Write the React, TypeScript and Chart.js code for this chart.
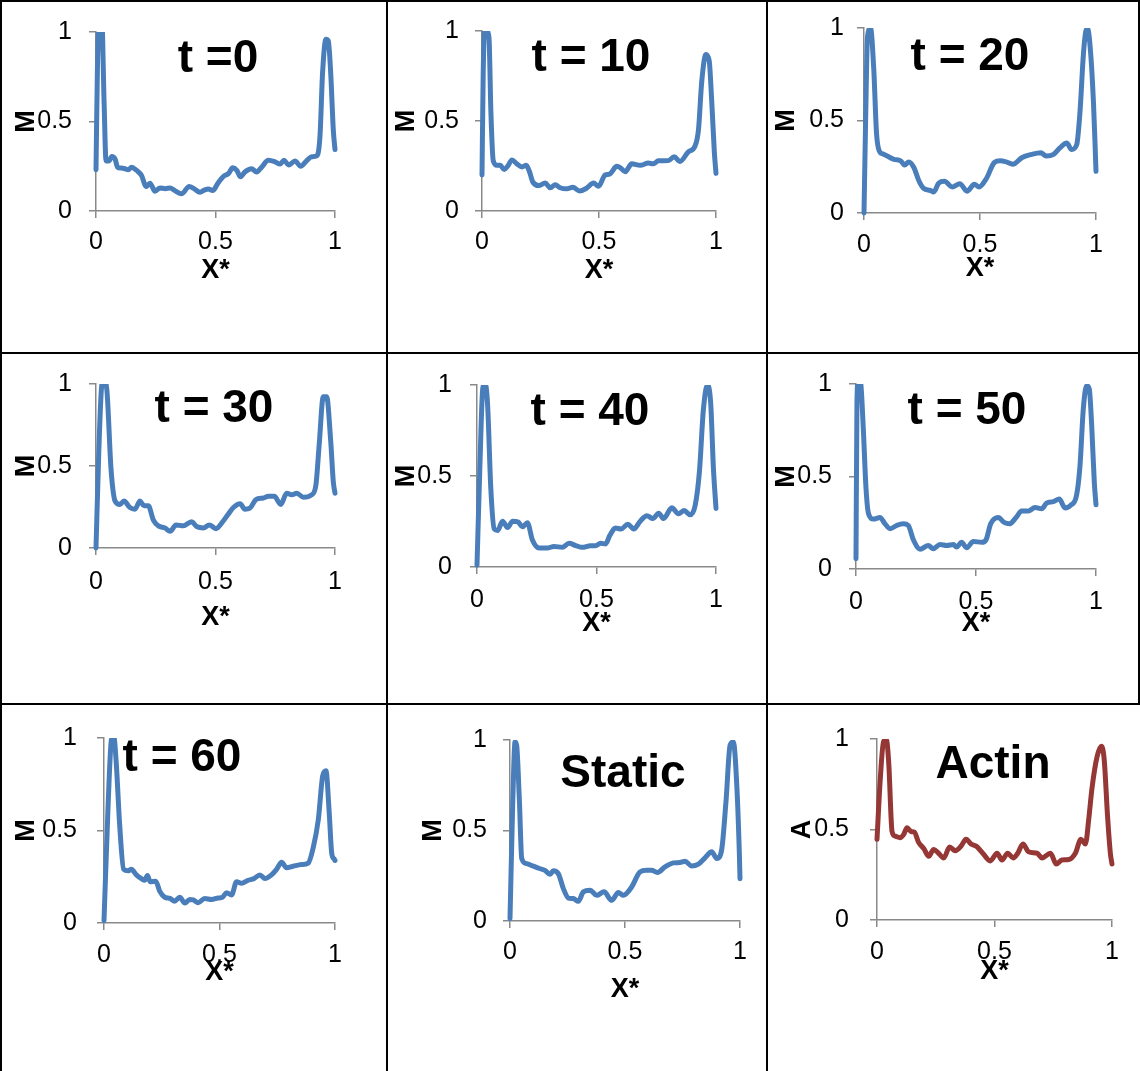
import React, { useEffect, useRef } from "react";
import { Chart, registerables } from "chart.js";

Chart.register(...registerables);

const FONT = '"Liberation Sans", Arial, sans-serif';
const BLUE = "#4A7EBB";
const RED = "#953735";
const AXIS = "#898989";

// ---- data (x* positions and normalized intensities) ----
const t0X = [0, 0.006, 0.014, 0.024, 0.034, 0.042, 0.055, 0.066, 0.08, 0.09, 0.105, 0.121, 0.135, 0.149, 0.17, 0.19, 0.21, 0.226, 0.247, 0.268, 0.29, 0.31, 0.33, 0.358, 0.39, 0.41, 0.435, 0.455, 0.47, 0.488, 0.512, 0.536, 0.554, 0.572, 0.589, 0.605, 0.623, 0.651, 0.672, 0.693, 0.721, 0.749, 0.77, 0.787, 0.805, 0.833, 0.856, 0.881, 0.902, 0.923, 0.937, 0.948, 0.962, 0.972, 0.982, 0.993, 1.0];
const t0M = [0.23, 0.8, 1.08, 1.08, 0.6, 0.28, 0.28, 0.305, 0.29, 0.245, 0.24, 0.236, 0.23, 0.245, 0.227, 0.2, 0.137, 0.155, 0.11, 0.129, 0.125, 0.129, 0.114, 0.096, 0.137, 0.125, 0.105, 0.118, 0.123, 0.114, 0.159, 0.196, 0.209, 0.241, 0.227, 0.191, 0.218, 0.236, 0.218, 0.245, 0.284, 0.275, 0.262, 0.284, 0.257, 0.279, 0.25, 0.28, 0.303, 0.307, 0.414, 0.771, 0.959, 0.95, 0.771, 0.45, 0.343];

const t10X = [0, 0.005, 0.012, 0.022, 0.03, 0.038, 0.048, 0.064, 0.078, 0.095, 0.11, 0.128, 0.149, 0.171, 0.189, 0.203, 0.216, 0.242, 0.27, 0.292, 0.313, 0.334, 0.363, 0.388, 0.417, 0.445, 0.477, 0.498, 0.526, 0.545, 0.576, 0.592, 0.612, 0.64, 0.676, 0.711, 0.732, 0.754, 0.797, 0.821, 0.846, 0.882, 0.91, 0.925, 0.939, 0.957, 0.971, 0.981, 0.993, 1.0];
const t10M = [0.2, 0.75, 1.03, 1.0, 0.96, 0.55, 0.28, 0.254, 0.254, 0.23, 0.25, 0.284, 0.262, 0.245, 0.254, 0.218, 0.164, 0.141, 0.155, 0.129, 0.146, 0.129, 0.123, 0.132, 0.111, 0.125, 0.155, 0.137, 0.2, 0.205, 0.248, 0.24, 0.218, 0.262, 0.254, 0.266, 0.262, 0.279, 0.28, 0.302, 0.275, 0.329, 0.36, 0.45, 0.718, 0.87, 0.834, 0.629, 0.325, 0.209];

const t20X = [0, 0.007, 0.015, 0.028, 0.042, 0.054, 0.066, 0.08, 0.1, 0.129, 0.158, 0.175, 0.193, 0.215, 0.236, 0.258, 0.284, 0.301, 0.322, 0.347, 0.38, 0.413, 0.444, 0.476, 0.496, 0.527, 0.562, 0.587, 0.609, 0.642, 0.68, 0.723, 0.762, 0.785, 0.817, 0.842, 0.874, 0.895, 0.917, 0.931, 0.946, 0.957, 0.964, 0.977, 0.989, 0.996, 1.0];
const t20M = [0.0, 0.5, 0.95, 1.0, 0.78, 0.43, 0.335, 0.32, 0.308, 0.29, 0.282, 0.259, 0.276, 0.246, 0.176, 0.132, 0.123, 0.114, 0.162, 0.171, 0.141, 0.158, 0.118, 0.155, 0.141, 0.185, 0.273, 0.282, 0.278, 0.264, 0.299, 0.317, 0.326, 0.308, 0.317, 0.349, 0.378, 0.343, 0.37, 0.546, 0.863, 0.986, 0.995, 0.863, 0.6, 0.37, 0.225];

const t30X = [0, 0.012, 0.024, 0.033, 0.045, 0.063, 0.08, 0.1, 0.117, 0.142, 0.163, 0.184, 0.201, 0.219, 0.24, 0.261, 0.289, 0.31, 0.335, 0.365, 0.4, 0.421, 0.449, 0.474, 0.502, 0.53, 0.554, 0.575, 0.603, 0.623, 0.644, 0.669, 0.7, 0.721, 0.746, 0.773, 0.798, 0.819, 0.84, 0.868, 0.902, 0.92, 0.934, 0.951, 0.965, 0.982, 0.993, 1.0];
const t30M = [0.0, 0.6, 0.99, 1.02, 0.97, 0.479, 0.286, 0.266, 0.286, 0.247, 0.237, 0.286, 0.257, 0.257, 0.17, 0.135, 0.122, 0.102, 0.141, 0.135, 0.16, 0.131, 0.122, 0.141, 0.118, 0.16, 0.208, 0.247, 0.27, 0.237, 0.243, 0.295, 0.305, 0.315, 0.315, 0.266, 0.334, 0.324, 0.334, 0.309, 0.324, 0.383, 0.633, 0.923, 0.923, 0.653, 0.402, 0.334];

const t40X = [0, 0.012, 0.024, 0.033, 0.044, 0.058, 0.072, 0.086, 0.107, 0.128, 0.149, 0.172, 0.19, 0.211, 0.232, 0.26, 0.294, 0.322, 0.357, 0.385, 0.413, 0.44, 0.475, 0.496, 0.517, 0.538, 0.556, 0.579, 0.603, 0.631, 0.656, 0.683, 0.711, 0.736, 0.76, 0.781, 0.815, 0.843, 0.867, 0.892, 0.913, 0.931, 0.947, 0.964, 0.978, 0.989, 1.0];
const t40M = [0.01, 0.55, 0.98, 1.01, 0.9, 0.426, 0.209, 0.2, 0.252, 0.217, 0.252, 0.247, 0.221, 0.243, 0.148, 0.104, 0.104, 0.113, 0.108, 0.13, 0.118, 0.108, 0.117, 0.117, 0.13, 0.127, 0.174, 0.214, 0.209, 0.235, 0.209, 0.252, 0.282, 0.266, 0.296, 0.266, 0.325, 0.292, 0.31, 0.287, 0.339, 0.53, 0.861, 1.0, 0.896, 0.548, 0.322];

const t50X = [0, 0.004, 0.01, 0.02, 0.03, 0.042, 0.052, 0.072, 0.1, 0.121, 0.142, 0.169, 0.197, 0.218, 0.239, 0.267, 0.301, 0.322, 0.35, 0.378, 0.406, 0.419, 0.44, 0.461, 0.489, 0.524, 0.542, 0.561, 0.593, 0.617, 0.639, 0.667, 0.69, 0.718, 0.746, 0.774, 0.794, 0.822, 0.847, 0.871, 0.894, 0.919, 0.933, 0.947, 0.961, 0.972, 0.982, 0.993, 1.0];
const t50M = [0.055, 0.9, 1.03, 1.0, 0.77, 0.43, 0.3, 0.27, 0.278, 0.244, 0.218, 0.235, 0.244, 0.235, 0.158, 0.107, 0.127, 0.11, 0.132, 0.127, 0.132, 0.119, 0.144, 0.115, 0.149, 0.144, 0.158, 0.244, 0.278, 0.252, 0.244, 0.278, 0.313, 0.313, 0.333, 0.326, 0.356, 0.364, 0.378, 0.33, 0.344, 0.399, 0.553, 0.863, 0.991, 0.974, 0.777, 0.467, 0.347];

const t60X = [0, 0.017, 0.032, 0.042, 0.053, 0.068, 0.085, 0.104, 0.118, 0.14, 0.162, 0.176, 0.188, 0.2, 0.224, 0.241, 0.263, 0.285, 0.306, 0.328, 0.35, 0.371, 0.386, 0.408, 0.436, 0.465, 0.494, 0.513, 0.53, 0.552, 0.574, 0.595, 0.624, 0.649, 0.675, 0.697, 0.725, 0.747, 0.769, 0.79, 0.819, 0.855, 0.884, 0.906, 0.928, 0.947, 0.961, 0.975, 0.986, 0.997, 1.0];
const t60M = [0.012, 0.61, 0.99, 1.01, 0.865, 0.527, 0.29, 0.282, 0.29, 0.26, 0.24, 0.231, 0.257, 0.223, 0.226, 0.172, 0.139, 0.133, 0.118, 0.139, 0.108, 0.127, 0.125, 0.11, 0.133, 0.127, 0.135, 0.139, 0.164, 0.152, 0.223, 0.215, 0.231, 0.24, 0.26, 0.24, 0.26, 0.29, 0.328, 0.299, 0.307, 0.316, 0.324, 0.409, 0.561, 0.797, 0.823, 0.595, 0.375, 0.345, 0.338];

const staticX = [0, 0.012, 0.022, 0.029, 0.041, 0.051, 0.072, 0.101, 0.128, 0.152, 0.174, 0.188, 0.21, 0.232, 0.254, 0.275, 0.297, 0.319, 0.348, 0.377, 0.409, 0.442, 0.471, 0.493, 0.529, 0.565, 0.594, 0.616, 0.641, 0.674, 0.71, 0.739, 0.761, 0.79, 0.819, 0.848, 0.877, 0.899, 0.92, 0.939, 0.957, 0.971, 0.986, 0.997, 1.0];
const staticM = [0.013, 0.659, 0.99, 0.97, 0.659, 0.345, 0.317, 0.303, 0.29, 0.28, 0.258, 0.277, 0.262, 0.179, 0.127, 0.124, 0.109, 0.161, 0.17, 0.142, 0.161, 0.114, 0.157, 0.142, 0.188, 0.271, 0.28, 0.28, 0.268, 0.299, 0.321, 0.323, 0.33, 0.304, 0.314, 0.349, 0.382, 0.345, 0.391, 0.659, 0.972, 0.99, 0.751, 0.382, 0.234];

const actinX = [0, 0.014, 0.028, 0.04, 0.05, 0.064, 0.078, 0.099, 0.113, 0.128, 0.145, 0.159, 0.177, 0.199, 0.22, 0.241, 0.262, 0.284, 0.309, 0.333, 0.357, 0.379, 0.4, 0.423, 0.45, 0.482, 0.511, 0.532, 0.556, 0.579, 0.599, 0.621, 0.645, 0.681, 0.702, 0.738, 0.763, 0.787, 0.816, 0.844, 0.868, 0.887, 0.901, 0.915, 0.936, 0.955, 0.967, 0.981, 0.993, 1.0];
const actinA = [0.446, 0.78, 0.986, 0.995, 0.866, 0.489, 0.463, 0.455, 0.472, 0.509, 0.489, 0.485, 0.429, 0.395, 0.352, 0.39, 0.369, 0.343, 0.403, 0.383, 0.407, 0.446, 0.42, 0.407, 0.369, 0.326, 0.369, 0.331, 0.369, 0.343, 0.369, 0.42, 0.377, 0.369, 0.343, 0.369, 0.309, 0.331, 0.334, 0.369, 0.446, 0.42, 0.557, 0.729, 0.9, 0.96, 0.883, 0.575, 0.369, 0.309];

const AXIS_MIN = 0;
const AXIS_MAX = 1;
const AXIS_STEP = 0.5;

// ---- layout of the 3x3 table (page pixels) ----
type Panel = {
  title: string;
  xs: number[];
  ys: number[];
  color: string;
  yLabel: string;
  cell: number[]; // x, y, w, h
  plot: number[]; // left, right, top, bottom
  yTitleCx: number;
  xTitleCy: number;
  yGap: number;
  xOff: number;
  titleAt: number[];
};

const PANELS: Panel[] = [
  { title: "t =0", xs: t0X, ys: t0M, color: BLUE, yLabel: "M", cell: [0, 0, 387, 352], plot: [96, 335, 24, 211], yTitleCx: 27, xTitleCy: 271, yGap: 24, xOff: 31, titleAt: [218, 56] },
  { title: "t = 10", xs: t10X, ys: t10M, color: BLUE, yLabel: "M", cell: [387, 0, 380, 352], plot: [482, 716, 24, 211], yTitleCx: 407, xTitleCy: 271, yGap: 23, xOff: 31, titleAt: [591, 55] },
  { title: "t = 20", xs: t20X, ys: t20M, color: BLUE, yLabel: "M", cell: [767, 0, 373, 352], plot: [864, 1096, 24, 213], yTitleCx: 787, xTitleCy: 269, yGap: 20, xOff: 32, titleAt: [970, 54] },
  { title: "t = 30", xs: t30X, ys: t30M, color: BLUE, yLabel: "M", cell: [0, 352, 387, 351], plot: [96, 335, 375, 548], yTitleCx: 27, xTitleCy: 618, yGap: 24, xOff: 34, titleAt: [214, 406] },
  { title: "t = 40", xs: t40X, ys: t40M, color: BLUE, yLabel: "M", cell: [387, 352, 380, 351], plot: [477, 716, 375, 567], yTitleCx: 407, xTitleCy: 624, yGap: 25, xOff: 33, titleAt: [590, 409] },
  { title: "t = 50", xs: t50X, ys: t50M, color: BLUE, yLabel: "M", cell: [767, 352, 373, 351], plot: [856, 1096, 375, 569], yTitleCx: 787, xTitleCy: 624, yGap: 24, xOff: 33, titleAt: [967, 408] },
  { title: "t = 60", xs: t60X, ys: t60M, color: BLUE, yLabel: "M", cell: [0, 703, 387, 368], plot: [104, 335, 725, 923], yTitleCx: 27, xTitleCy: 973, yGap: 27, xOff: 32, titleAt: [182, 755] },
  { title: "Static", xs: staticX, ys: staticM, color: BLUE, yLabel: "M", cell: [387, 703, 380, 368], plot: [510, 740, 740, 921], yTitleCx: 434, xTitleCy: 990, yGap: 23, xOff: 31, titleAt: [623, 771] },
  { title: "Actin", xs: actinX, ys: actinA, color: RED, yLabel: "A", cell: [767, 703, 373, 368], plot: [877, 1112, 726, 920], yTitleCx: 803, xTitleCy: 972, yGap: 28, xOff: 32, titleAt: [993, 762] },
];

const TICK_SIZE = 25;
const AXTITLE_SIZE = 27;
const TITLE_SIZE = 46;
const TL = 7;

const panelTitlePlugin = {
  id: "panelTitle",
  afterDraw(chart: any, _args: any, opts: any) {
    const ctx = chart.ctx;
    ctx.save();
    ctx.font = `bold ${opts.size}px ${FONT}`;
    ctx.fillStyle = "#000";
    ctx.textAlign = "center";
    ctx.textBaseline = "alphabetic";
    ctx.fillText(opts.text, opts.x, opts.y + opts.size * 0.358);
    ctx.restore();
  },
};

const fmtTick = (v: any) => String(Number(v));

function PanelChart({ p }: { p: Panel }) {
  const ref = useRef<HTMLCanvasElement | null>(null);
  useEffect(() => {
    const [cx, cy, cw, ch] = p.cell;
    const [L, R, T, B] = p.plot;
    const lhTick = TICK_SIZE * 1.2;
    const lhTitle = AXTITLE_SIZE * 1.2;
    const padLeft = p.yTitleCx - cx - lhTitle / 2;
    const W = L - cx - padLeft;
    const padTop = T - cy;
    const padRight = cx + cw - R;
    const H = p.xTitleCy + lhTitle / 2 - B;
    const padBottom = cy + ch - (B + H);
    const points = p.xs.map((x, i) => ({ x, y: p.ys[i] }));
    const tickFont = { family: FONT, size: TICK_SIZE };
    const titleFont = { family: FONT, size: AXTITLE_SIZE, weight: "bold" as const };
    const chart = new Chart(ref.current as HTMLCanvasElement, {
      type: "line",
      data: {
        datasets: [
          {
            data: points,
            borderColor: p.color,
            backgroundColor: p.color,
            borderWidth: 5,
            pointRadius: 0,
            fill: false,
            cubicInterpolationMode: "monotone",
            borderCapStyle: "round",
            borderJoinStyle: "round",
            clip: { left: 6, right: 6, top: 0, bottom: 6 },
          } as any,
        ],
      },
      options: {
        responsive: false,
        animation: false,
        events: [],
        layout: { autoPadding: false, padding: { left: padLeft, right: padRight, top: padTop, bottom: padBottom } },
        plugins: {
          legend: { display: false },
          tooltip: { enabled: false },
          panelTitle: { text: p.title, x: p.titleAt[0] - cx, y: p.titleAt[1] - cy, size: TITLE_SIZE },
        } as any,
        scales: {
          x: {
            type: "linear",
            min: AXIS_MIN,
            max: AXIS_MAX,
            afterFit: (s: any) => { s.height = H; },
            ticks: { stepSize: AXIS_STEP, font: tickFont, color: "#000", padding: p.xOff - TL - lhTick / 2, maxRotation: 0, autoSkip: false, callback: fmtTick },
            grid: { drawOnChartArea: false, drawTicks: true, tickLength: TL, color: AXIS, lineWidth: 1.5 },
            border: { display: true, color: AXIS, width: 1.5 },
            title: { display: true, text: "X*", font: titleFont, color: "#000", padding: 0 },
          },
          y: {
            type: "linear",
            min: AXIS_MIN,
            max: AXIS_MAX,
            afterFit: (s: any) => { s.width = W; },
            ticks: { stepSize: AXIS_STEP, font: tickFont, color: "#000", padding: p.yGap - TL, callback: fmtTick },
            grid: { drawOnChartArea: false, drawTicks: true, tickLength: TL, color: AXIS, lineWidth: 1.5 },
            border: { display: true, color: AXIS, width: 1.5 },
            title: { display: true, text: p.yLabel, font: titleFont, color: "#000", padding: 0 },
          },
        },
      } as any,
      plugins: [panelTitlePlugin],
    });
    return () => chart.destroy();
  }, [p]);
  const [cx, cy, cw, ch] = p.cell;
  return (
    <canvas
      ref={ref}
      width={cw}
      height={ch}
      style={{ position: "absolute", left: cx, top: cy, width: cw, height: ch }}
    />
  );
}

const LINES = [
  { left: 0, top: 0, width: 1140, height: 2 },
  { left: 0, top: 0, width: 2, height: 1071 },
  { left: 386, top: 0, width: 2, height: 1071 },
  { left: 766, top: 0, width: 2, height: 1071 },
  { left: 1138, top: 0, width: 2, height: 705 },
  { left: 0, top: 352, width: 1140, height: 2 },
  { left: 0, top: 703, width: 1140, height: 2 },
];

export default function App() {
  return (
    <div style={{ position: "absolute", left: 0, top: 0, width: 1140, height: 1071, background: "#fff", overflow: "hidden" }}>
      {PANELS.map((p, i) => (
        <PanelChart key={i} p={p} />
      ))}
      {LINES.map((l, i) => (
        <div key={"l" + i} style={{ position: "absolute", background: "#000", ...l }} />
      ))}
    </div>
  );
}
